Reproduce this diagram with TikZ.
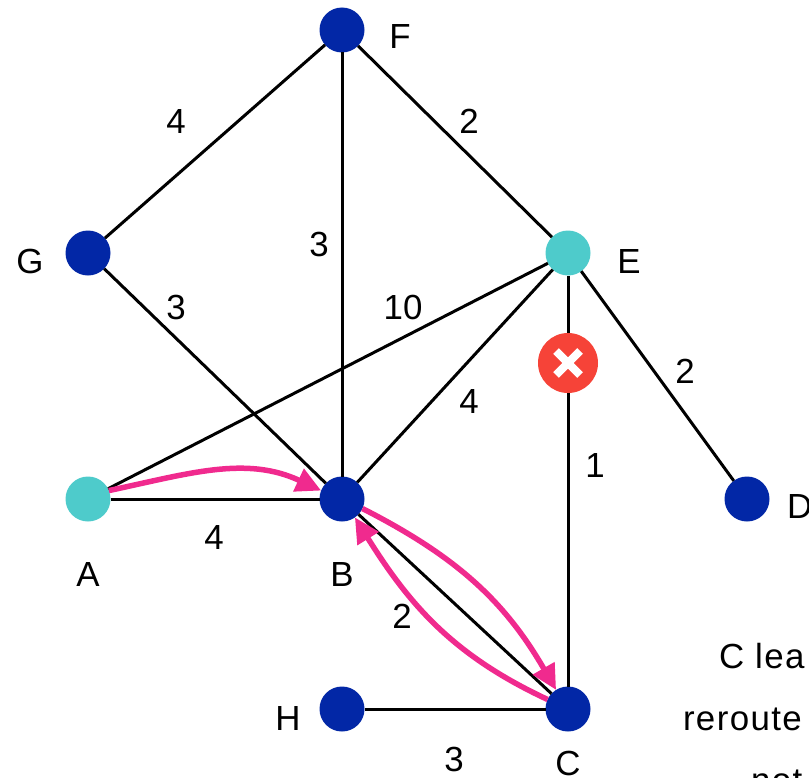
\documentclass[tikz,border=0pt]{standalone}
\usepackage{fontspec}
\setmainfont{Liberation Sans}
\usetikzlibrary{arrows.meta}
\definecolor{navy}{HTML}{0227A6}
\definecolor{teal}{HTML}{4ECBCB}
\definecolor{pink}{HTML}{F02A8E}
\definecolor{failred}{HTML}{F64338}
\tikzset{
  x=1bp,y=-1bp,
  vertex/.style={circle,fill=navy,minimum size=45bp,inner sep=0pt,outer sep=0pt},
  active/.style={vertex,fill=teal},
  edge/.style={draw=black,line width=3bp},
  route/.style={draw=pink,line width=5.5bp,-{Triangle[length=25bp,width=24bp]}},
  txt/.style={inner sep=0pt,outer sep=0pt,font=\fontsize{35}{42}\selectfont,text=black},
  lbl/.style={txt,anchor=base},
  note/.style={txt,anchor=base west},
  longnote/.style={note,font=\fontsize{35}{42}\selectfont\addfontfeatures{LetterSpace=4}},
}
\begin{document}
\begin{tikzpicture}
\useasboundingbox (0,0) rectangle (809,778);
\clip (0,0) rectangle (809,778);
\node[vertex] (F) at (342,30) {};
\node[vertex] (G) at (88,253) {};
\node[active] (E) at (568,253) {};
\node[active] (A) at (88,499) {};
\node[vertex] (B) at (342,499) {};
\node[vertex] (D) at (747,499) {};
\node[vertex] (H) at (342,709) {};
\node[vertex] (C) at (568,709) {};
\node[circle,fill=failred,minimum size=60bp,inner sep=0pt,outer sep=0pt] (X) at (568,363) {};
\draw[edge] (F) -- (G);
\draw[edge] (F) -- (B);
\draw[edge] (F) -- (E);
\draw[edge] (G) -- (B);
\draw[edge] (E) -- (A);
\draw[edge] (E) -- (B);
\draw[edge] (E) -- (X);
\draw[edge] (X) -- (C);
\draw[edge] (E) -- (D);
\draw[edge] (A) -- (B);
\draw[edge] (B) -- (C);
\draw[edge] (H) -- (C);
\draw[route] (A.22) to[out=12,in=155] (B.158);
\draw[route] (B.-25) to[out=-27,in=120] (C.122);
\draw[route] (C.155) to[out=155,in=-58] (B.-55);
\draw[white,line width=8bp] (556,351) -- (580,375) (580,351) -- (556,375);
\node[lbl] (lF) at (400,49) {F};
\node[lbl] (lG) at (30,273) {G};
\node[lbl] (lE) at (629,273) {E};
\node[lbl] (lA) at (88,586) {A};
\node[lbl] (lB) at (342,586) {B};
\node[note] (lD) at (787,518) {D};
\node[lbl] (lH) at (288,730) {H};
\node[lbl] (lC) at (568,775) {C};
\node[lbl] (w1) at (176,133) {4};
\node[lbl] (w2) at (469,133) {2};
\node[lbl] (w3) at (319,256) {3};
\node[lbl] (w4) at (176,319) {3};
\node[lbl] (w5) at (403,319) {10};
\node[lbl] (w6) at (469,413) {4};
\node[lbl] (w7) at (685,383) {2};
\node[lbl] (w8) at (595,477) {1};
\node[lbl] (w9) at (214,549) {4};
\node[lbl] (w10) at (402,628) {2};
\node[lbl] (w11) at (454,771) {3};
\node[longnote] (n1) at (719,668) {C lea};
\node[longnote] (n2) at (683,730) {reroute};
\node[longnote] (n3) at (751,792) {not};
\end{tikzpicture}
\end{document}
